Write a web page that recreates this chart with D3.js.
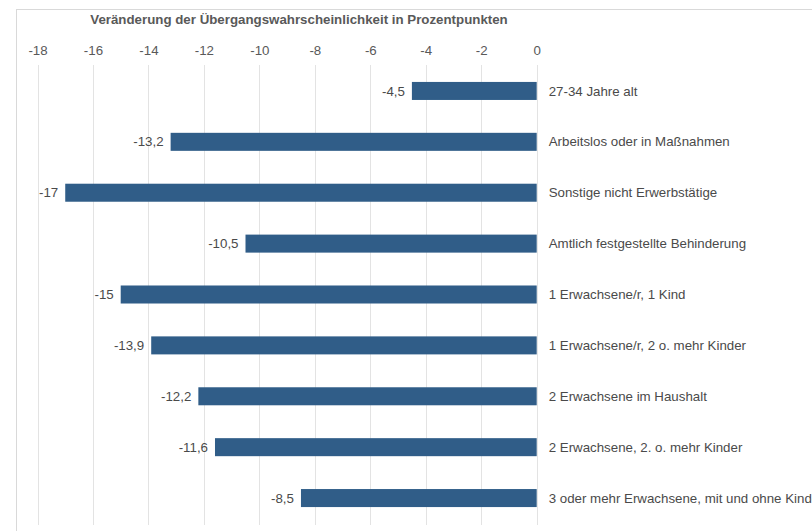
<!DOCTYPE html>
<html>
<head>
<meta charset="utf-8">
<script src="https://cdn.jsdelivr.net/npm/d3@7"></script>
<style>
  html, body { margin: 0; padding: 0; background: #fff; }
  svg { display: block; font-family: "Liberation Sans", Arial, sans-serif; }
</style>
</head>
<body>
<svg id="chart" width="812" height="531"></svg>
<script>
// Kategorien (von oben nach unten) und Werte in Prozentpunkten
const categories = [
  "27-34 Jahre alt",
  "Arbeitslos oder in Maßnahmen",
  "Sonstige nicht Erwerbstätige",
  "Amtlich festgestellte Behinderung",
  "1 Erwachsene/r, 1 Kind",
  "1 Erwachsene/r, 2 o. mehr Kinder",
  "2 Erwachsene im Haushalt",
  "2 Erwachsene, 2. o. mehr Kinder",
  "3 oder mehr Erwachsene, mit und ohne Kinder"
];
const values = [-4.5, -13.2, -17, -10.5, -15, -13.9, -12.2, -11.6, -8.5];
const valueLabels = ["-4,5", "-13,2", "-17", "-10,5", "-15", "-13,9", "-12,2", "-11,6", "-8,5"];
const tickValues = [-18, -16, -14, -12, -10, -8, -6, -4, -2, 0];
const title = "Veränderung der Übergangswahrscheinlichkeit in Prozentpunkten";

const svg = d3.select("#chart");
const barColor = "#305d88";
const textColor = "#595959";
const gridColor = "#e3e3e3";
const fontSize = 13.3;

// Rahmen des Diagrammbereichs
svg.append("rect")
  .attr("x", 16.5).attr("y", 9.5)
  .attr("width", 820).attr("height", 540)
  .attr("fill", "none").attr("stroke", "#d9d9d9").attr("stroke-width", 1);

const x = d3.scaleLinear().domain([-18, 0]).range([37.5, 536.7]);
const y = d3.scaleBand().domain(categories).range([65.5, 523.5]).paddingInner(0.646).paddingOuter(0.323);

// Titel
svg.append("text")
  .attr("x", 299).attr("y", 23.5)
  .attr("text-anchor", "middle")
  .attr("fill", textColor)
  .attr("font-size", fontSize)
  .attr("font-weight", "bold")
  .text(title);

// Achse oben mit Gitterlinien
const axis = d3.axisTop(x).tickValues(tickValues).tickSize(0).tickPadding(0)
  .tickFormat(d => d3.format("d")(d).replace("−", "-"));
const gAxis = svg.append("g").attr("transform", "translate(0,55)").call(axis);
gAxis.select(".domain").remove();
gAxis.selectAll("text")
  .attr("fill", textColor)
  .attr("font-size", fontSize)
  .attr("font-family", "\"Liberation Sans\", Arial, sans-serif");

svg.append("g").selectAll("line")
  .data(tickValues)
  .join("line")
  .attr("x1", d => Math.round(x(d)) + 0.5)
  .attr("x2", d => Math.round(x(d)) + 0.5)
  .attr("y1", 65).attr("y2", 525)
  .attr("stroke", gridColor).attr("stroke-width", 1);

// Balken
svg.append("g").selectAll("rect")
  .data(values)
  .join("rect")
  .attr("x", d => x(d))
  .attr("y", (d, i) => y(categories[i]))
  .attr("width", d => x(0) - x(d))
  .attr("height", y.bandwidth())
  .attr("fill", barColor);

// Wertbeschriftungen links am Balkenende
svg.append("g").selectAll("text")
  .data(values)
  .join("text")
  .attr("x", d => x(d) - 7)
  .attr("y", (d, i) => y(categories[i]) + y.bandwidth() / 2)
  .attr("dy", "0.35em")
  .attr("text-anchor", "end")
  .attr("fill", "#4a4a4a")
  .attr("font-size", fontSize)
  .text((d, i) => valueLabels[i]);

// Kategoriebeschriftungen rechts der Nulllinie
svg.append("g").selectAll("text")
  .data(categories)
  .join("text")
  .attr("x", x(0) + 12)
  .attr("y", d => y(d) + y.bandwidth() / 2)
  .attr("dy", "0.35em")
  .attr("fill", "#4a4a4a")
  .attr("font-size", fontSize)
  .text(d => d);
</script>
</body>
</html>
